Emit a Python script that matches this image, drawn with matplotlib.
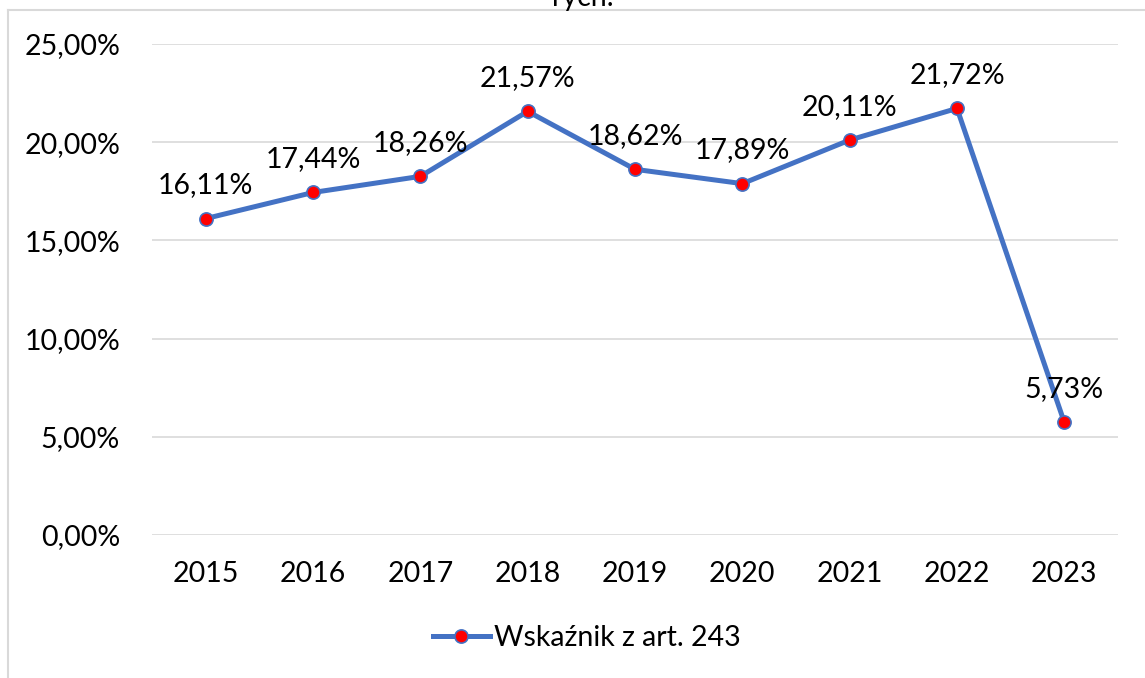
import matplotlib
matplotlib.use("Agg")
import matplotlib.pyplot as plt
from matplotlib.lines import Line2D

years = ["2015", "2016", "2017", "2018", "2019", "2020", "2021", "2022", "2023"]
values = [16.11, 17.44, 18.26, 21.57, 18.62, 17.89, 20.11, 21.72, 5.73]
series_name = "Wskaźnik z art. 243"
yticks = [0, 5, 10, 15, 20, 25]

plt.rcParams['font.family'] = ['Lato', 'DejaVu Sans']
FS = 20.5

W, H = 1145, 678
fig = plt.figure(figsize=(W / 100, H / 100), dpi=100)
ax = fig.add_axes([152 / W, 1 - 535 / H, (1118 - 152) / W, (535 - 44) / H])

blue = "#4472C4"
x = list(range(len(years)))
ax.plot(x, values, color=blue, lw=3.6, marker='o', markersize=9.5,
        markerfacecolor='#FF0000', markeredgecolor=blue, markeredgewidth=1.2,
        solid_capstyle='round', zorder=3)

for xi, v in zip(x, values):
    ax.annotate(f"{v:.2f}%".replace('.', ','), (xi, v), xytext=(0, 24),
                textcoords='offset points', ha='center', va='center',
                fontsize=FS, color='black', zorder=4)

ax.set_xlim(-0.5, len(years) - 0.5)
ax.set_ylim(0, 25)
ax.set_yticks(yticks)
ax.set_yticklabels([f"{t:.2f}%".replace('.', ',') for t in yticks])
ax.set_xticks(x)
ax.set_xticklabels(years)
ax.tick_params(axis='both', length=0, labelsize=FS, colors='black')
ax.tick_params(axis='y', pad=23)
ax.tick_params(axis='x', pad=19)
ax.grid(axis='y', color='#D9D9D9', lw=1.2)
ax.set_axisbelow(True)
for s in ax.spines.values():
    s.set_visible(False)

# chart border (left and top visible)
fig.add_artist(Line2D([8 / W, 8 / W], [0, 1 - 10 / H], color='#D9D9D9', lw=1.5))
fig.add_artist(Line2D([8 / W, 1], [1 - 10 / H, 1 - 10 / H], color='#D9D9D9', lw=1.5))

# clipped title remnant
fig.text(583 / W, 1 - 11 / H, "rych.", ha='center', va='bottom', fontsize=FS)

handle = Line2D([], [], color=blue, lw=3.6, marker='o', markersize=9.5,
                markerfacecolor='#FF0000', markeredgecolor=blue, markeredgewidth=1.2)
fig.legend([handle], [series_name], loc='center', bbox_to_anchor=(587 / W, 1 - 638 / H),
           frameon=False, fontsize=FS, handlelength=2.0, handletextpad=0.15)

fig.savefig("out.png", dpi=100)
